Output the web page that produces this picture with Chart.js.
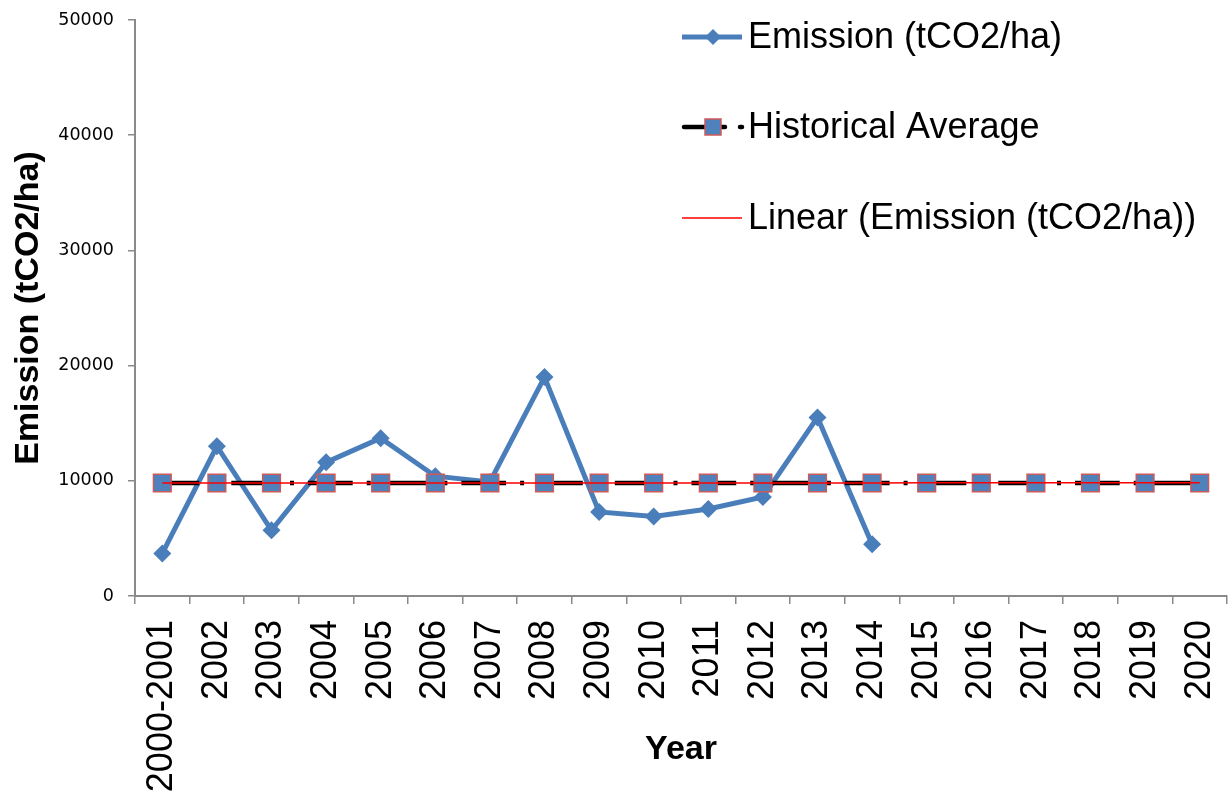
<!DOCTYPE html>
<html>
<head>
<meta charset="utf-8">
<script src="https://cdn.jsdelivr.net/npm/chart.js@4/dist/chart.umd.min.js"></script>
<style>
  html, body { margin: 0; padding: 0; background: #ffffff; }
  #wrap { width: 1230px; height: 796px; }
</style>
</head>
<body>
<div id="wrap"><canvas id="chart" width="1230" height="796"></canvas></div>
<script>
// Category labels along the x axis
const years = ['2000-2001', '2002', '2003', '2004', '2005', '2006', '2007', '2008', '2009', '2010',
               '2011', '2012', '2013', '2014', '2015', '2016', '2017', '2018', '2019', '2020'];

// Annual emission (tCO2/ha); no observations after 2014
const emission = [3700, 13000, 5700, 11600, 13700, 10400, 9900, 19000, 7300, 6900,
                  7550, 8600, 15500, 4500, null, null, null, null, null, null];

// Historical average carried across the whole period
const historicalAverage = [9810, 9810, 9810, 9810, 9810, 9810, 9810, 9810, 9810, 9810,
                           9810, 9810, 9810, 9810, 9810, 9810, 9810, 9810, 9810, 9810];

// Linear trend of the emission series
const linearTrend = [9800, 9800, 9800, 9800, 9810, 9810, 9810, 9810, 9810, 9810,
                     9810, 9810, 9810, 9810, 9820, 9820, 9820, 9820, 9820, 9820];

// Value axis ticks
const yTickValues = [0, 10000, 20000, 30000, 40000, 50000];

const BLUE = '#4a7ebb';
const SQUARE_FILL = '#4f81bd';
const SQUARE_EDGE = '#cc5a58';
const AXIS_GREY = '#8a8a8a';

// Legend drawn at the upper right, each sample mirroring its series style
const sideLegend = {
  id: 'sideLegend',
  afterDraw(chart) {
    const ctx = chart.ctx;
    const ds = chart.data.datasets;
    const x0 = 682, x1 = 742, tx = 748;
    const rows = [37, 127, 218];
    ctx.save();

    // Emission: line with diamond
    let y = rows[0];
    ctx.strokeStyle = ds[0].borderColor;
    ctx.lineWidth = ds[0].borderWidth;
    ctx.beginPath(); ctx.moveTo(x0, y); ctx.lineTo(x1, y); ctx.stroke();
    ctx.fillStyle = ds[0].pointBackgroundColor;
    ctx.beginPath();
    const cx = 713, r = 8;
    ctx.moveTo(cx, y - r); ctx.lineTo(cx + r, y); ctx.lineTo(cx, y + r); ctx.lineTo(cx - r, y);
    ctx.closePath(); ctx.fill();

    // Historical average: thick dash, square, dot
    y = rows[1];
    ctx.strokeStyle = ds[1].borderColor;
    ctx.lineWidth = ds[1].borderWidth;
    ctx.lineCap = 'round';
    ctx.beginPath(); ctx.moveTo(x0 + 2, y); ctx.lineTo(725, y); ctx.stroke();
    ctx.beginPath(); ctx.moveTo(740, y); ctx.lineTo(742, y); ctx.stroke();
    ctx.lineCap = 'butt';
    ctx.fillStyle = ds[1].pointBackgroundColor;
    ctx.strokeStyle = ds[1].pointBorderColor;
    ctx.lineWidth = ds[1].pointBorderWidth;
    ctx.fillRect(705, y - 8, 16, 16);
    ctx.strokeRect(705, y - 8, 16, 16);

    // Linear trend: thin red line
    y = rows[2];
    ctx.strokeStyle = ds[2].borderColor;
    ctx.lineWidth = ds[2].borderWidth;
    ctx.beginPath(); ctx.moveTo(x0, y); ctx.lineTo(x1, y); ctx.stroke();

    ctx.fillStyle = '#000000';
    ctx.font = '36px "Liberation Sans", Arial, sans-serif';
    ctx.textBaseline = 'middle';
    ctx.textAlign = 'left';
    for (let i = 0; i < 3; i++) {
      ctx.fillText(ds[i].label, tx, rows[i] + 1);
    }
    ctx.restore();
  }
};

new Chart(document.getElementById('chart'), {
  type: 'line',
  data: {
    labels: years,
    datasets: [
      {
        label: 'Emission (tCO2/ha)',
        data: emission,
        borderColor: BLUE,
        backgroundColor: BLUE,
        borderWidth: 5,
        pointStyle: 'rectRot',
        pointRadius: 9,
        pointBackgroundColor: BLUE,
        pointBorderColor: BLUE,
        pointBorderWidth: 0,
        tension: 0,
        spanGaps: false,
        order: 3
      },
      {
        label: 'Historical Average',
        data: historicalAverage,
        borderColor: '#000000',
        borderWidth: 4.5,
        borderDash: [44.7, 14, 4, 14],
        borderDashOffset: 7.7,
        pointStyle: 'rect',
        pointRadius: 12.5,
        pointBackgroundColor: SQUARE_FILL,
        pointBorderColor: SQUARE_EDGE,
        pointBorderWidth: 1.5,
        tension: 0,
        order: 2
      },
      {
        label: 'Linear (Emission (tCO2/ha))',
        data: linearTrend,
        borderColor: '#ff0000',
        borderWidth: 1.5,
        pointRadius: 0,
        tension: 0,
        order: 1
      }
    ]
  },
  options: {
    responsive: false,
    animation: false,
    devicePixelRatio: 1,
    layout: { autoPadding: false, padding: { top: 20, right: 3, left: 0, bottom: 0 } },
    plugins: {
      legend: { display: false },
      tooltip: { enabled: false }
    },
    scales: {
      x: {
        type: 'category',
        offset: true,
        grid: {
          display: true,
          drawOnChartArea: false,
          drawTicks: true,
          tickLength: 8,
          offset: true,
          color: AXIS_GREY,
          lineWidth: 1.5
        },
        border: { display: true, color: AXIS_GREY, width: 2 },
        ticks: {
          autoSkip: false,
          minRotation: 90,
          maxRotation: 90,
          padding: 16,
          color: '#000000',
          font: { family: '"Liberation Sans", Arial, sans-serif', size: 36 }
        },
        title: {
          display: true,
          text: 'Year',
          color: '#000000',
          font: { family: '"Liberation Sans", Arial, sans-serif', size: 34, weight: 'bold' },
          padding: { top: 0, bottom: 26 }
        },
        afterFit(scale) {
          scale.height = 200;
          scale.paddingLeft = 0;
          scale.paddingRight = 0;
        }
      },
      y: {
        min: 0,
        max: 50000,
        afterBuildTicks(scale) { scale.ticks = yTickValues.map(v => ({ value: v })); },
        grid: {
          display: true,
          drawOnChartArea: false,
          drawTicks: true,
          tickLength: 7,
          color: AXIS_GREY,
          lineWidth: 1.5
        },
        border: { display: true, color: AXIS_GREY, width: 2 },
        ticks: {
          padding: 14,
          color: '#000000',
          font: { family: '"DejaVu Sans", sans-serif', size: 17.5 },
          callback: (value) => String(value)
        },
        title: {
          display: true,
          text: 'Emission (tCO2/ha)',
          color: '#000000',
          font: { family: '"Liberation Sans", Arial, sans-serif', size: 34, weight: 'bold' },
          padding: { top: 8, bottom: 0 }
        },
        afterFit(scale) {
          scale.width = 135;
          scale.paddingTop = 0;
          scale.paddingBottom = 0;
        }
      }
    }
  },
  plugins: [sideLegend]
});
</script>
</body>
</html>
